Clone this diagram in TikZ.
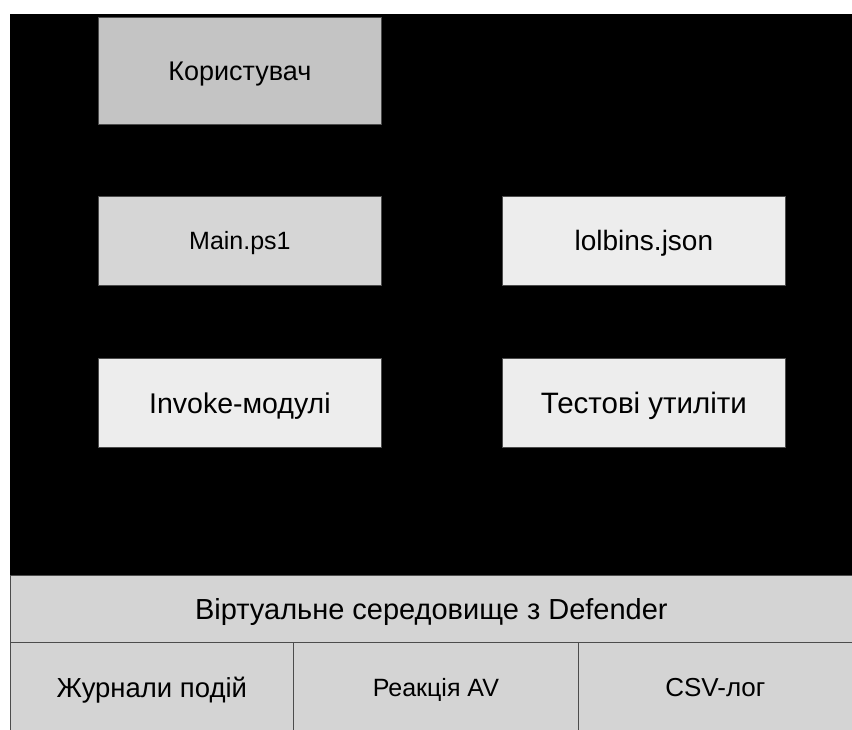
\documentclass[tikz,border=0pt]{standalone}
\usepackage{fontspec}
\setmainfont{Liberation Sans}
\newcommand{\fsz}[1]{\fontsize{#1}{#1}\selectfont}
\begin{document}
\begin{tikzpicture}[x=1pt,y=-1pt,
  box/.style={draw=black!70, line width=0.8pt, inner sep=0pt, anchor=north west, text depth=0pt},
  link/.style={draw=black, line width=0.8pt}]
\useasboundingbox (0,0) rectangle (852,729);
\fill[white] (0,0) rectangle (852,729);
\fill[black] (10,14) rectangle (852,575);
\node[box, fill=black!23, minimum width=283pt, minimum height=107pt, font=\fsz{27}, text height=19.33pt] (user) at (98,17) {Користувач};
\node[box, fill=black!16, minimum width=283pt, minimum height=89pt, font=\fsz{25}, text height=17.9pt] (main) at (98,196) {Main.ps1};
\node[box, fill=black!7, minimum width=283pt, minimum height=89pt, font=\fsz{28}, text height=20.05pt] (lol) at (502,196) {lolbins.json};
\node[box, fill=black!7, minimum width=283pt, minimum height=89pt, font=\fsz{28.5}, text height=20.41pt] (inv) at (98,358) {Invoke-модулі};
\node[box, fill=black!7, minimum width=283pt, minimum height=89pt, font=\fsz{29.5}, text height=21.12pt] (test) at (502,358) {Тестові утиліти};
\node[box, fill=black!17, minimum width=842pt, minimum height=67pt, font=\fsz{29}, text height=20.76pt] (virt) at (10,575) {Віртуальне середовище з Defender};
\node[box, fill=black!17, minimum width=283pt, minimum height=90pt, font=\fsz{27.5}, text height=19.69pt] (logs) at (10,642) {Журнали подій};
\node[box, fill=black!17, minimum width=285pt, minimum height=90pt, font=\fsz{25}, text height=17.9pt] (av) at (293,642) {Реакція AV};
\node[box, fill=black!17, minimum width=274pt, minimum height=90pt, font=\fsz{26}, text height=18.62pt] (csv) at (578,642) {CSV-лог};
\draw[link] (user) -- (main);
\draw[link] (main) -- (lol);
\draw[link] (main) -- (inv);
\draw[link] (lol) -- (test);
\draw[link] (inv.south) -- (inv.south |- virt.north);
\draw[link] (test.south) -- (test.south |- virt.north);
\end{tikzpicture}
\end{document}
